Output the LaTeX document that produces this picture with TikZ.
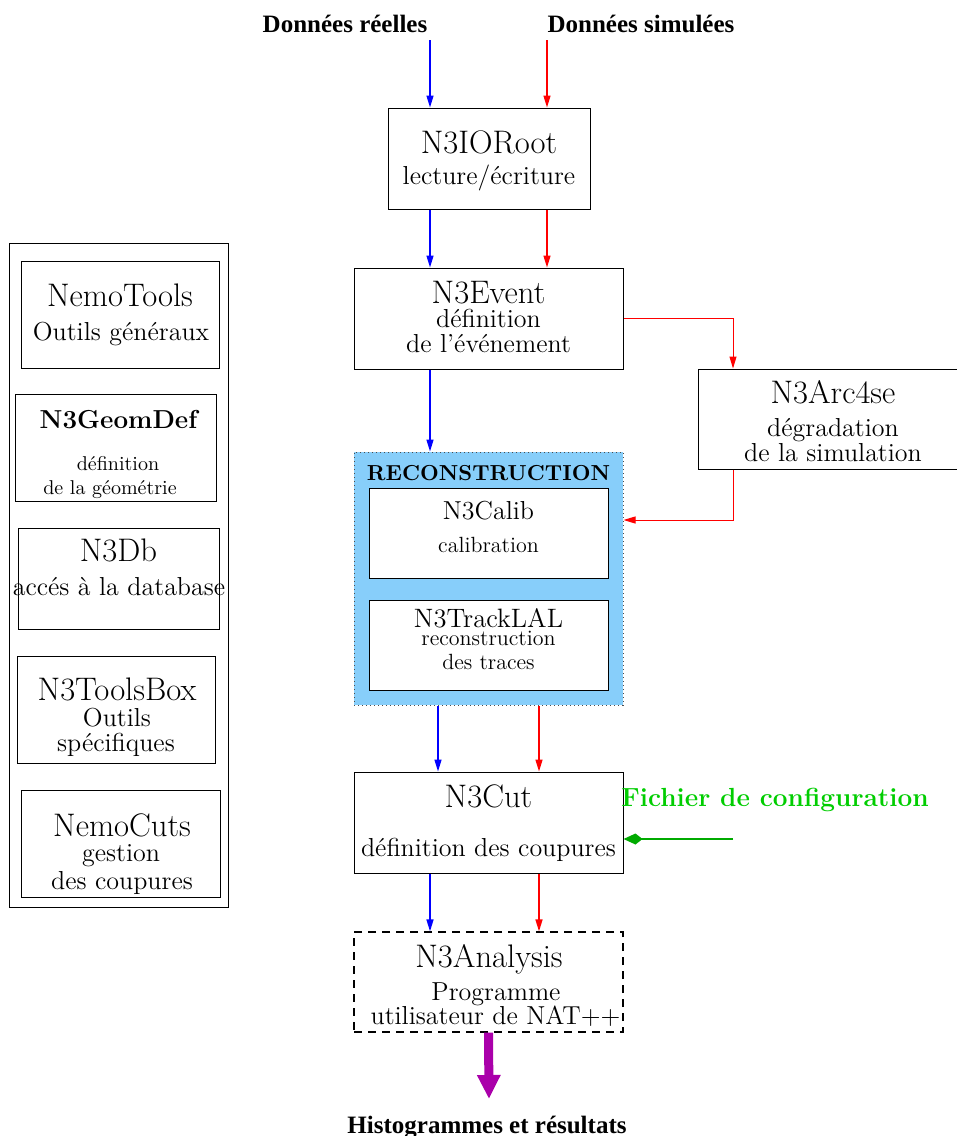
\documentclass[tikz,border=0pt]{standalone}
\usepackage{fontspec}
\newfontfamily\tbf{Liberation Serif}
\usetikzlibrary{arrows.meta}
\definecolor{skyfill}{RGB}{135,206,250}
\definecolor{cfggreen}{RGB}{0,205,0}
\definecolor{linegreen}{RGB}{0,170,0}
\definecolor{histmag}{RGB}{170,0,170}
\newcommand{\fs}[1]{\fontsize{#1}{#1}\selectfont}
\tikzset{
  box/.style={draw=black, line width=0.5pt, inner sep=0pt, anchor=center},
  lbl/.style={inner sep=0pt, anchor=base, align=center},
  big/.style={lbl, font=\fs{16.3}},
  mid/.style={lbl, font=\fs{13}},
  sml/.style={lbl, font=\fs{11}},
  tiny/.style={lbl, font=\fs{10}},
  tim/.style={lbl, font=\tbf\bfseries\fs{12.5}},
  bluearr/.style={draw=blue, line width=0.7pt, -{Triangle[length=6pt,width=3.5pt]}},
  redarr/.style={draw=red, line width=0.7pt, -{Triangle[length=6pt,width=3.5pt]}},
  redthin/.style={draw=red, line width=0.5pt, -{Triangle[length=6pt,width=3.5pt]}},
}
\begin{document}
\begin{tikzpicture}[x=0.5pt, y=-0.5pt]
\useasboundingbox (0,0) rectangle (957,1136);

% ---------- top labels
\node[tim] (dreel) at (345,32) {Données réelles};
\node[tim] (dsim) at (641,32) {Données simulées};
\coordinate (bsrc) at (430,40);
\coordinate (rsrc) at (547,40);

% ---------- central boxes
\node[box, minimum width=101pt, minimum height=50.5pt] (ioroot) at (489,158.5) {};
\node[big] (tio) at (489,153) {N3IORoot};
\node[mid] (tio2) at (489,184) {lecture/écriture};

\node[box, minimum width=134.5pt, minimum height=50.5pt] (event) at (488.5,318.5) {};
\node[big] (tev) at (488.5,303) {N3Event};
\node[mid] (tev2) at (488.5,327) {définition};
\node[mid] (tev3) at (488.5,352) {de l'événement};

\node[box, minimum width=135pt, minimum height=50pt] (arc) at (833,419) {};
\node[big] (tarc) at (833,403) {N3Arc4se};
\node[mid] (tarc2) at (833,436) {dégradation};
\node[mid] (tarc3) at (833,461) {de la simulation};

\node[box, draw=black!70, dash pattern=on 0.5pt off 1.5pt, fill=skyfill, minimum width=134.5pt, minimum height=126.5pt] (recon) at (488.5,578.5) {};
\node[lbl, font=\bfseries\fs{10.85}] (trec) at (488.5,480) {RECONSTRUCTION};
\node[box, fill=white, minimum width=119.5pt, minimum height=45pt] (calib) at (488.5,533) {};
\node[lbl, font=\fs{13}] (tcal) at (488.5,519) {N3Calib};
\node[sml] (tcal2) at (488.5,552) {calibration};
\node[box, fill=white, minimum width=119.5pt, minimum height=45pt] (track) at (488.5,645) {};
\node[lbl, font=\fs{13.3}] (ttr) at (488.5,627) {N3TrackLAL};
\node[sml] (ttr2) at (488.5,645) {reconstruction};
\node[sml] (ttr3) at (488.5,669) {des traces};

\node[box, minimum width=134.5pt, minimum height=50.5pt] (cut) at (488.5,822.5) {};
\node[big] (tcut) at (488.5,807) {N3Cut};
\node[mid] (tcut2) at (488.5,856) {définition des coupures};

\node[lbl, font=\bfseries\fs{13.1}, text=cfggreen] (tcfg) at (775,806) {Fichier de configuration};
\coordinate (cfg) at (733,839);

\node[box, dash pattern=on 4pt off 3pt, line width=0.6pt, minimum width=134.5pt, minimum height=50pt] (ana) at (488.5,982) {};
\node[big] (tana) at (489,967) {N3Analysis};
\node[mid] (tana2) at (496,1000) {Programme};
\node[mid] (tana3) at (495.5,1024) {utilisateur de NAT++};

\coordinate (hist) at (489,1099);
\node[tim] (thist) at (487,1133) {Histogrammes et résultats};

% ---------- left column
\node[box, minimum width=109.5pt, minimum height=332pt] (left) at (118.5,575) {};
\node[box, minimum width=99pt, minimum height=53.5pt] (ntools) at (120,314.5) {};
\node[big] (tnt) at (120,306) {NemoTools};
\node[mid] (tnt2) at (121,340) {Outils généraux};

\node[box, minimum width=100.5pt, minimum height=53.5pt] (geom) at (115.5,447.5) {};
\node[lbl, font=\bfseries\fs{13}] (tgeo) at (118.5,428) {N3GeomDef};
\node[tiny] (tgeo2) at (118,470) {définition};
\node[tiny] (tgeo3) at (110,494) {de la géométrie};

\node[box, minimum width=100.5pt, minimum height=50.5pt] (db) at (118.5,578.5) {};
\node[big] (tdb) at (118.5,561) {N3Db};
\node[mid] (tdb2) at (119,595) {accés à la database};

\node[box, minimum width=99pt, minimum height=53.5pt] (tbox) at (116,709.5) {};
\node[big] (ttb) at (117,700) {N3ToolsBox};
\node[mid] (ttb2) at (117,726) {Outils};
\node[mid] (ttb3) at (116,751) {spécifiques};

\node[box, minimum width=99.5pt, minimum height=53.5pt] (ncuts) at (120.5,843.5) {};
\node[big] (tnc) at (122,836) {NemoCuts};
\node[mid] (tnc2) at (121,861) {gestion};
\node[mid] (tnc3) at (122,889) {des coupures};

% ---------- connectors
\coordinate (xb1) at (430,0);
\coordinate (xr1) at (547,0);
\coordinate (xb2) at (438,0);
\coordinate (xr2) at (539,0);
\coordinate (xa) at (733,0);
\coordinate (ya) at (0,520);

\draw[bluearr] (bsrc) -- (ioroot.north -| bsrc);
\draw[redarr] (rsrc) -- (ioroot.north -| rsrc);
\draw[bluearr] (ioroot.south -| xb1) -- (event.north -| xb1);
\draw[redarr] (ioroot.south -| xr1) -- (event.north -| xr1);
\draw[redthin] (event.east) -| (arc.north -| xa);
\draw[redthin] (arc.south -| xa) |- (recon.east |- ya);
\draw[bluearr] (event.south -| xb1) -- (recon.north -| xb1);
\draw[bluearr] (recon.south -| xb2) -- (cut.north -| xb2);
\draw[redarr] (recon.south -| xr2) -- (cut.north -| xr2);
\draw[bluearr] (cut.south -| xb1) -- (ana.north -| xb1);
\draw[redarr] (cut.south -| xr2) -- (ana.north -| xr2);
\draw[draw=linegreen, line width=0.8pt, -{Kite[length=9.5pt,width=5.5pt,inset=3.5pt]}] (cfg) -- (cut.east |- cfg);
\draw[draw=histmag, line width=4.5pt, -{Triangle[length=12pt,width=11pt]}] (ana.south) -- (hist);
\end{tikzpicture}
\end{document}
